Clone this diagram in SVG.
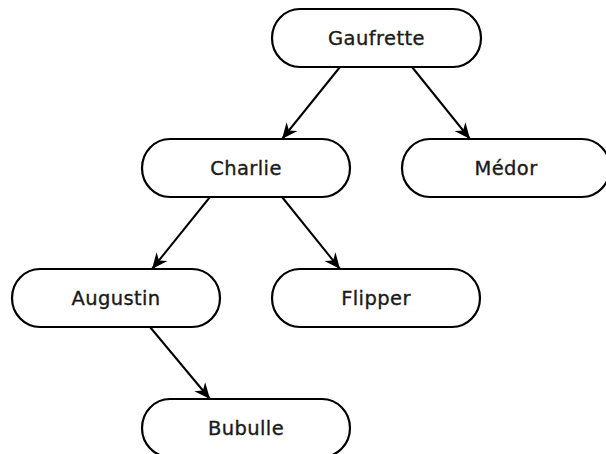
<svg xmlns="http://www.w3.org/2000/svg" width="606" height="454" viewBox="0 0 606 454">
<style>
.node rect{fill:#fff;stroke:#000;stroke-width:2.2}
.node text{font-family:"DejaVu Sans",sans-serif;font-size:19.5px;fill:#1a1a1a;stroke:#1a1a1a;stroke-width:0.35;text-anchor:middle;letter-spacing:0.4px}
.edge{stroke:#000;stroke-width:2;fill:none;marker-end:url(#arr)}
</style>
<defs>
<marker id="arr" markerUnits="userSpaceOnUse" markerWidth="18" markerHeight="16" refX="16" refY="8" orient="auto">
<path d="M0,1 L16,8 L0,15 L5,8 z" fill="#000"/>
</marker>
</defs>
<rect width="606" height="454" fill="#fff"/>
<g id="connectors">
<line class="edge" x1="340" y1="67" x2="282" y2="139"/>
<line class="edge" x1="412" y1="67" x2="470" y2="139"/>
<line class="edge" x1="210" y1="197" x2="152" y2="269"/>
<line class="edge" x1="282" y1="197" x2="340" y2="269"/>
<line class="edge" x1="150" y1="327" x2="210" y2="399"/>
</g>
<g id="gaufrette" class="node"><rect x="272" y="9" width="209" height="58" rx="28" ry="29"/><text x="376.5" y="45">Gaufrette</text></g>
<g id="charlie" class="node"><rect x="142" y="139" width="208" height="58" rx="28" ry="29"/><text x="246" y="175">Charlie</text></g>
<g id="medor" class="node"><rect x="402" y="139" width="208" height="58" rx="28" ry="29"/><text x="506" y="175">Médor</text></g>
<g id="augustin" class="node"><rect x="12" y="269" width="208" height="58" rx="28" ry="29"/><text x="116" y="305">Augustin</text></g>
<g id="flipper" class="node"><rect x="272" y="269" width="208" height="58" rx="28" ry="29"/><text x="376" y="305">Flipper</text></g>
<g id="bubulle" class="node"><rect x="142" y="399" width="208" height="58" rx="28" ry="29"/><text x="246" y="435">Bubulle</text></g>
</svg>
